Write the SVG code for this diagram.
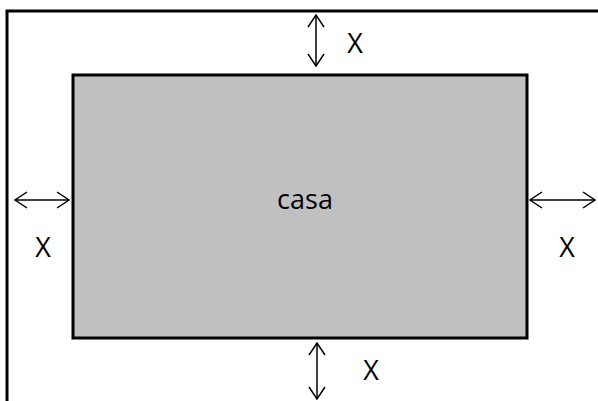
<svg xmlns="http://www.w3.org/2000/svg" width="598" height="401" viewBox="0 0 598 401">
<defs>
<marker id="ah" viewBox="0 0 14 18" refX="13" refY="9" markerWidth="14" markerHeight="18" markerUnits="userSpaceOnUse" orient="auto-start-reverse">
<path d="M1,1 L13,9 L1,17" fill="none" stroke="#000" stroke-width="1.5"/>
</marker>
<style>
.lbl{font-family:"Open Sans","Liberation Sans",sans-serif;font-size:27px;fill:#000;text-anchor:middle;dominant-baseline:central}
.arr{stroke:#000;stroke-width:1.5;fill:none;marker-start:url(#ah);marker-end:url(#ah)}
</style>
</defs>
<rect width="598" height="401" fill="#fff"/>
<g id="lot">
<path d="M7,405 L7,11 L602,11" fill="none" stroke="#000" stroke-width="3"/>
</g>
<g id="casa">
<rect x="73" y="75" width="454" height="263" fill="#c0c0c0" stroke="#000" stroke-width="3"/>
<text class="lbl" x="305" y="198">casa</text>
</g>
<g id="connectors">
<line class="arr" x1="316" y1="15" x2="316" y2="66"/>
<line class="arr" x1="15" y1="200" x2="69" y2="200"/>
<line class="arr" x1="530" y1="200" x2="595" y2="200"/>
<line class="arr" x1="317" y1="343" x2="317" y2="399"/>
</g>
<g id="labels">
<text class="lbl" x="355" y="42">X</text>
<text class="lbl" x="43" y="246">X</text>
<text class="lbl" x="567" y="246">X</text>
<text class="lbl" x="371" y="369">X</text>
</g>
</svg>
